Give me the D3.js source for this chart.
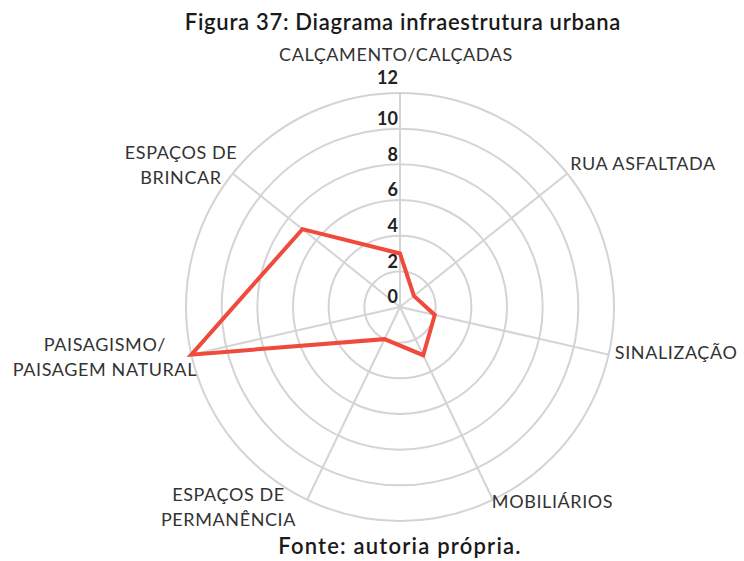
<!DOCTYPE html>
<html>
<head>
<meta charset="utf-8">
<script src="https://cdn.jsdelivr.net/npm/d3@7"></script>
<style>
  body { margin: 0; background: #fff; }
  svg { display: block; }
  .title, .footer { font-family: Lato, sans-serif; font-weight: 600; fill: #1a1a1a; }
  .axis-label { font-family: Lato, sans-serif; font-weight: 400; fill: #333; }
  .tick-label { font-family: Lato, sans-serif; font-weight: 700; fill: #222; }
</style>
</head>
<body>
<svg class="chart" width="744" height="561"></svg>
<script>
// data
var categories = [
    ['CALÇAMENTO/CALÇADAS'],
    ['RUA ASFALTADA'],
    ['SINALIZAÇÃO'],
    ['MOBILIÁRIOS'],
    ['ESPAÇOS DE', 'PERMANÊNCIA'],
    ['PAISAGISMO/', 'PAISAGEM NATURAL'],
    ['ESPAÇOS DE', 'BRINCAR']
];
var values = [3, 1, 2, 3, 2, 12, 7];
var tickValues = [0, 2, 4, 6, 8, 10, 12];
var titleText = 'Figura 37: Diagrama infraestrutura urbana';
var footerText = 'Fonte: autoria própria.';

(function() {
    var p = {};
        p.width = 744;
        p.height = 561;
        p.cx = 400;
        p.cy = 307;
        p.radius = 214;
        p.gridColor = '#d4d4d4';
        p.gridWidth = 2;
        p.lineColor = '#ef4a3c';
        p.lineWidth = 4;
        p.labelPad = 20;
        p.lineHeight = 25;
        // per label nudges [dx, dy] from the point on the axis
        p.labelNudge = [[-4, -18], [60, 3], [48, -6], [51, -16], [-70, -11], [-67, -2], [-36, 4]];

    var svg = d3.select('.chart');
    var n = categories.length;

    var r = d3.scaleLinear()
        .domain([0, d3.max(tickValues)])
        .range([0, p.radius]);
    var angle = function(i) { return i * 2 * Math.PI / n; };

    var chart = svg.append('g')
        .attr('transform', 'translate(' + p.cx + ',' + p.cy + ')');

    //-----  Grid  -----//
    chart.selectAll('circle.grid')
        .data(tickValues.filter(function(t) { return t > 0; }))
        .enter().append('circle')
            .attr('class', 'grid')
            .attr('r', function(d) { return r(d); })
            .attr('fill', 'none')
            .attr('stroke', p.gridColor)
            .attr('stroke-width', p.gridWidth);

    chart.selectAll('line.spoke')
        .data(categories)
        .enter().append('line')
            .attr('class', 'spoke')
            .attr('x1', 0).attr('y1', 0)
            .attr('x2', function(d, i) { return r(12) * Math.sin(angle(i)); })
            .attr('y2', function(d, i) { return -r(12) * Math.cos(angle(i)); })
            .attr('stroke', p.gridColor)
            .attr('stroke-width', p.gridWidth);

    //-----  Series  -----//
    var radar = d3.lineRadial()
        .angle(function(d, i) { return angle(i); })
        .radius(function(d) { return r(d); })
        .curve(d3.curveLinearClosed);

    chart.append('path')
        .datum(values)
        .attr('d', radar)
        .attr('fill', 'none')
        .attr('stroke', p.lineColor)
        .attr('stroke-width', p.lineWidth)
        .attr('stroke-linejoin', 'miter');

    //-----  Tick labels  -----//
    chart.selectAll('text.tick-label')
        .data(tickValues)
        .enter().append('text')
            .attr('class', 'tick-label')
            .attr('x', -2)
            .attr('y', function(d) { return -r(d) - (d === 12 ? 15 : 10); })
            .attr('dy', '0.35em')
            .attr('text-anchor', 'end')
            .attr('font-size', 18)
            .text(function(d) { return d; });

    //-----  Axis labels  -----//
    var labels = chart.selectAll('text.axis-label')
        .data(categories)
        .enter().append('text')
            .attr('class', 'axis-label')
            .attr('font-size', 18)
            .attr('letter-spacing', 0.6)
            .attr('text-anchor', 'middle')
            .attr('transform', function(d, i) {
                var rr = r(12) + p.labelPad;
                var x = rr * Math.sin(angle(i)) + p.labelNudge[i][0];
                var y = -rr * Math.cos(angle(i)) + p.labelNudge[i][1];
                return 'translate(' + x + ',' + y + ')';
            });
    labels.each(function(d) {
        var t = d3.select(this);
        d.forEach(function(line, k) {
            t.append('tspan')
                .attr('x', 0)
                .attr('y', (k - (d.length - 1) / 2) * p.lineHeight)
                .attr('dy', '0.35em')
                .text(line);
        });
    });

    //-----  Title & footer  -----//
    svg.append('text')
        .attr('class', 'title')
        .attr('x', 403)
        .attr('y', 22)
        .attr('dy', '0.35em')
        .attr('text-anchor', 'middle')
        .attr('font-size', 22)
        .attr('letter-spacing', 0.7)
        .text(titleText);

    svg.append('text')
        .attr('class', 'footer')
        .attr('x', 400)
        .attr('y', 546)
        .attr('dy', '0.35em')
        .attr('text-anchor', 'middle')
        .attr('font-size', 22)
        .attr('letter-spacing', 1.2)
        .text(footerText);
})();
</script>
</body>
</html>
